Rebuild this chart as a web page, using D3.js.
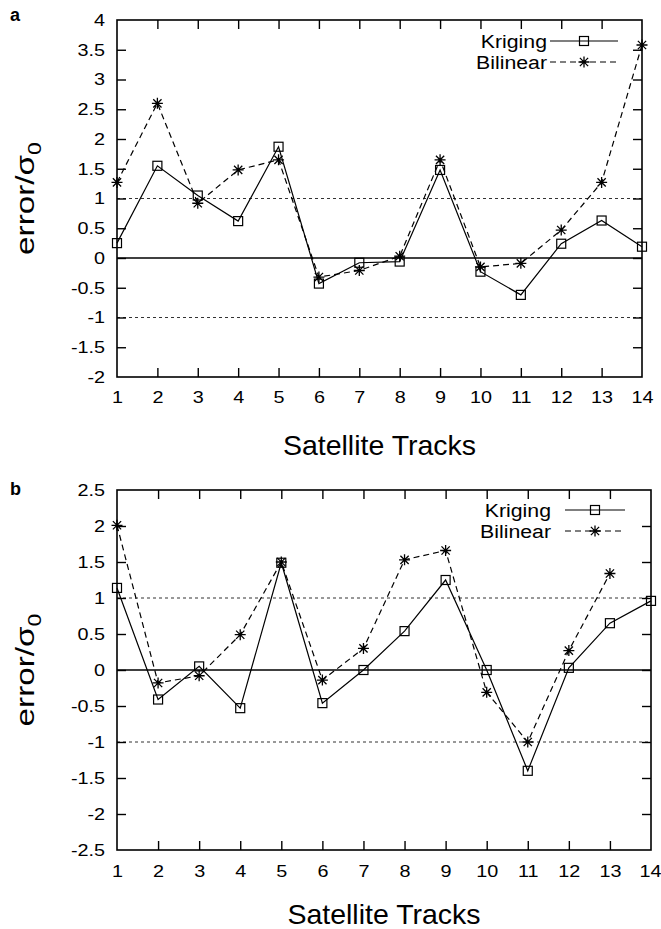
<!DOCTYPE html>
<html>
<head>
<meta charset="utf-8">
<script src="https://cdn.jsdelivr.net/npm/d3@7"></script>
<style>
  html, body { margin: 0; padding: 0; background: #fff; }
  svg { display: block; }
  text { font-family: "Liberation Sans", Arial, Helvetica, sans-serif; fill: #000; }
</style>
</head>
<body>
<svg id="chart" width="661" height="929"></svg>
<script>
// ---- data ----
const tracks = [1, 2, 3, 4, 5, 6, 7, 8, 9, 10, 11, 12, 13, 14];
const krigingA  = [0.25, 1.55, 1.05, 0.62, 1.87, -0.43, -0.08, -0.06, 1.48, -0.23, -0.62, 0.24, 0.63, 0.19];
const bilinearA = [1.27, 2.60, 0.92, 1.48, 1.65, -0.32, -0.21, 0.03, 1.65, -0.15, -0.09, 0.47, 1.27, 3.58];
const krigingB  = [1.14, -0.41, 0.05, -0.53, 1.49, -0.46, 0.00, 0.54, 1.25, 0.00, -1.40, 0.03, 0.65, 0.96];
const bilinearB = [2.01, -0.18, -0.08, 0.49, 1.50, -0.14, 0.30, 1.53, 1.66, -0.31, -1.00, 0.27, 1.34];
const yTicksA = [-2, -1.5, -1, -0.5, 0, 0.5, 1, 1.5, 2, 2.5, 3, 3.5, 4];
const yTicksB = [-2.5, -2, -1.5, -1, -0.5, 0, 0.5, 1, 1.5, 2, 2.5];
const seriesNames = ["Kriging", "Bilinear"];
const refLines = [1, -1];

const svg = d3.select("#chart");
const STRETCH = 1.2;
const W = 661;

function asterisk(g, x, y, r) {
  return g.append("path")
    .attr("d", `M${x - r},${y}L${x + r},${y}M${x},${y - r}L${x},${y + r}` +
               `M${x - r * 0.75},${y - r * 0.75}L${x + r * 0.75},${y + r * 0.75}` +
               `M${x - r * 0.75},${y + r * 0.75}L${x + r * 0.75},${y - r * 0.75}`)
    .attr("stroke", "#000").attr("stroke-width", 1.3).attr("fill", "none");
}
function square(g, x, y, s) {
  g.append("rect").attr("x", x - s / 2).attr("y", y - s / 2)
    .attr("width", s).attr("height", s)
    .attr("fill", "none").attr("stroke", "#000").attr("stroke-width", 1.2);
}

function panel(cfg) {
  const { left, right, top, bottom, yDomain, yTicks, kriging, bilinear, letter, letterY,
          xPad, xLabelY, legend } = cfg;
  const x = d3.scaleLinear().domain([1, 14]).range([left, right]);
  const y = d3.scaleLinear().domain(yDomain).range([bottom, top]);
  const g = svg.append("g");

  // reference lines
  refLines.forEach(v => {
    g.append("line").attr("x1", left).attr("x2", right)
      .attr("y1", y(v)).attr("y2", y(v))
      .attr("stroke", "#333").attr("stroke-width", 1)
      .attr("stroke-dasharray", "3,3");
  });
  g.append("line").attr("x1", left).attr("x2", right)
    .attr("y1", y(0)).attr("y2", y(0))
    .attr("stroke", "#000").attr("stroke-width", 1.3);

  // axes
  const innerTicks = tracks.slice(1, -1);
  const ax = g.append("g").attr("transform", `translate(0,${bottom})`)
    .call(d3.axisBottom(x).tickValues(tracks).tickSizeInner(-9).tickSizeOuter(0).tickPadding(xPad).tickFormat(d3.format("d")));
  ax.selectAll(".tick line").filter(d => d === 1 || d === 14).remove();
  ax.selectAll(".tick text")
    .attr("transform", d => {
      // keep the last label inside the page
      const shift = Math.min(0, (W - 11) - x(d));
      return `translate(${shift},0) scale(${STRETCH},1)`;
    });
  g.append("g").attr("transform", `translate(0,${top})`)
    .call(d3.axisTop(x).tickValues(innerTicks).tickSizeInner(-9).tickSizeOuter(0).tickFormat(""));
  const ay = g.append("g").attr("transform", `translate(${left},0)`)
    .call(d3.axisLeft(y).tickValues(yTicks).tickSizeInner(-9).tickSizeOuter(0).tickPadding(12).tickFormat(d => String(d)));
  ay.selectAll(".tick line").filter(d => d === yDomain[0] || d === yDomain[1]).remove();
  ay.selectAll(".tick text").attr("x", 0).attr("transform", `translate(-12,0) scale(${STRETCH},1)`);
  g.append("g").attr("transform", `translate(${right},0)`)
    .call(d3.axisRight(y).tickValues(yTicks.filter(d => d !== yDomain[0] && d !== yDomain[1])).tickSizeInner(-9).tickSizeOuter(0).tickFormat(""));
  g.selectAll(".domain").remove();
  g.selectAll(".tick line").attr("stroke", "#000").attr("stroke-width", 1.4);
  g.selectAll(".tick text").attr("font-size", 16.5).attr("font-family", "Liberation Sans, Arial, sans-serif");

  // frame
  g.append("rect").attr("x", left).attr("y", top)
    .attr("width", right - left).attr("height", bottom - top)
    .attr("fill", "none").attr("stroke", "#000").attr("stroke-width", 1.6);

  // series lines
  const line = d3.line().x((d, i) => x(tracks[i])).y(d => y(d));
  g.append("path").datum(kriging).attr("d", line)
    .attr("fill", "none").attr("stroke", "#000").attr("stroke-width", 1.2);
  g.append("path").datum(bilinear).attr("d", line)
    .attr("fill", "none").attr("stroke", "#000").attr("stroke-width", 1.2)
    .attr("stroke-dasharray", "6,4");
  kriging.forEach((v, i) => square(g, x(tracks[i]), y(v), 9));
  bilinear.forEach((v, i) => asterisk(g, x(tracks[i]), y(v), 5.5));

  // legend
  const lg = g.append("g");
  seriesNames.forEach((name, i) => {
    const ly = legend.y + i * legend.dy;
    lg.append("text")
      .attr("transform", `translate(${legend.textX},${ly + 6.5}) scale(1.12,1)`)
      .attr("text-anchor", "end").attr("font-size", 19).text(name);
    lg.append("line").attr("x1", legend.x1).attr("x2", legend.x2)
      .attr("y1", ly).attr("y2", ly)
      .attr("stroke", "#000").attr("stroke-width", 1.2)
      .attr("stroke-dasharray", i === 0 ? null : "6,4");
    const mx = (legend.x1 + legend.x2) / 2;
    if (i === 0) square(lg, mx, ly, 9); else asterisk(lg, mx, ly, 5.5);
  });

  // axis titles
  svg.append("text").attr("x", (left + right) / 2).attr("y", xLabelY)
    .attr("text-anchor", "middle").attr("font-size", 28.5).text("Satellite Tracks");
  const yl = svg.append("text")
    .attr("transform", `translate(34,${(top + bottom) / 2}) rotate(-90) scale(1.28,1)`)
    .attr("text-anchor", "middle").attr("font-size", 26);
  yl.append("tspan").text("error/σ");
  yl.append("tspan").attr("font-size", 18).attr("dy", 7).text("0");

  svg.append("text").attr("x", 10).attr("y", letterY)
    .attr("font-family", "Liberation Serif, Times New Roman, serif")
    .attr("font-weight", "bold").attr("font-size", 18).text(letter);
}

panel({
  left: 117, right: 642, top: 20, bottom: 377,
  yDomain: [-2, 4], yTicks: yTicksA,
  kriging: krigingA, bilinear: bilinearA,
  letter: "a", letterY: 21, xPad: 14, xLabelY: 455,
  legend: { textX: 547, x1: 550, x2: 618, y: 41, dy: 21 }
});
panel({
  left: 117, right: 651, top: 490, bottom: 850,
  yDomain: [-2.5, 2.5], yTicks: yTicksB,
  kriging: krigingB, bilinear: bilinearB,
  letter: "b", letterY: 495, xPad: 15, xLabelY: 924,
  legend: { textX: 551, x1: 565, x2: 625, y: 510, dy: 21 }
});
</script>
</body>
</html>
